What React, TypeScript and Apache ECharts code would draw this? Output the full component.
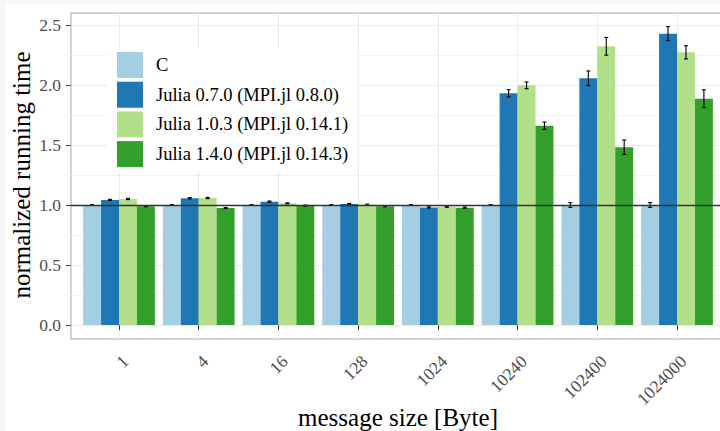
import React, { useEffect, useRef } from "react";
import * as echarts from "echarts";

const categories = ["1", "4", "16", "128", "1024", "10240", "102400", "1024000"];
const seriesNames = [
  "C",
  "Julia 0.7.0 (MPI.jl 0.8.0)",
  "Julia 1.0.3 (MPI.jl 0.14.1)",
  "Julia 1.4.0 (MPI.jl 0.14.3)",
];
const colors = ["#A6CEE3", "#1F78B4", "#B2DF8A", "#33A02C"];

const cValues = [1, 1, 1, 1, 1, 1, 1, 1];
const cErrors = [0.004, 0.004, 0.004, 0.004, 0.004, 0.003, 0.02, 0.02];
const julia07Values = [1.042, 1.056, 1.028, 1.008, 0.98, 1.931, 2.056, 2.428];
const julia07Errors = [0.005, 0.005, 0.005, 0.005, 0.005, 0.03, 0.061, 0.058];
const julia103Values = [1.05, 1.058, 1.014, 1.003, 0.985, 1.997, 2.322, 2.272];
const julia103Errors = [0.005, 0.005, 0.004, 0.004, 0.004, 0.028, 0.074, 0.055];
const julia14Values = [0.99, 0.975, 0.995, 0.99, 0.978, 1.661, 1.481, 1.886];
const julia14Errors = [0.004, 0.004, 0.004, 0.004, 0.005, 0.03, 0.06, 0.074];

const yTicksMin = 0;
const yTicksMax = 2.5;
const yTickStep = 0.5;

const FONT = "Liberation Serif";

export default function App() {
  const ref = useRef<HTMLDivElement>(null);
  useEffect(() => {
    if (!ref.current) return;
    const chart = echarts.init(ref.current, undefined, { renderer: "svg" });
    const allValues = [cValues, julia07Values, julia103Values, julia14Values];
    const allErrors = [cErrors, julia07Errors, julia103Errors, julia14Errors];

    const barSeries = allValues.map((vals, k) => ({
      name: seriesNames[k],
      type: "bar",
      xAxisIndex: 2,
      yAxisIndex: 2,
      data: vals,
      barGap: "0%",
      barCategoryGap: "10%",
      clip: false,
      itemStyle: { color: colors[k] },
      z: 2,
    }));

    const errSeries = allValues.map((vals, k) => ({
      type: "custom",
      xAxisIndex: 2,
      yAxisIndex: 2,
      z: 4,
      silent: true,
      encode: { x: 0, y: 1 },
      data: vals.map((v, i) => [i, v, allErrors[k][i]]),
      renderItem: (params: any, api: any) => {
        const idx = api.value(0);
        const v = api.value(1);
        const e = api.value(2);
        const bw = api.size([1, 0])[0];
        const barW = (bw * 0.9) / 4;
        const cx = api.coord([idx, v])[0] + (k - 1.5) * barW;
        const yTop = api.coord([idx, v + e])[1];
        const yBot = api.coord([idx, v - e])[1];
        const half = 2;
        const style = { stroke: "#000", lineWidth: 1.1 };
        return {
          type: "group",
          children: [
            { type: "line", shape: { x1: cx, y1: yTop, x2: cx, y2: yBot }, style },
            { type: "line", shape: { x1: cx - half, y1: yTop, x2: cx + half, y2: yTop }, style },
            { type: "line", shape: { x1: cx - half, y1: yBot, x2: cx + half, y2: yBot }, style },
          ],
        };
      },
    }));

    const option: any = {
      animation: false,
      backgroundColor: "#ffffff",
      textStyle: { fontFamily: FONT },
      graphic: [
        { type: "rect", shape: { x: 0, y: 0, width: 6, height: 431 }, style: { fill: "#f7f7f7" }, silent: true },
        { type: "rect", shape: { x: 0, y: 0, width: 720, height: 4 }, style: { fill: "#f7f7f7" }, silent: true },
      ],
      grid: [
        {
          left: 71, top: 13, width: 654, height: 326,
          show: true, borderColor: "#a6a6a6", borderWidth: 1, backgroundColor: "transparent",
          outerBoundsMode: "none", containLabel: false,
        },
        { left: 71, top: 25, width: 654, height: 300, outerBoundsMode: "none", containLabel: false },
        { left: 119, top: 13, width: 558, height: 326, outerBoundsMode: "none", containLabel: false },
      ],
      xAxis: [
        { gridIndex: 0, type: "value", min: 0, max: 1, show: false },
        { gridIndex: 1, type: "value", min: 0, max: 1, show: false },
        {
          gridIndex: 2,
          type: "category",
          data: categories,
          boundaryGap: false,
          axisLine: { show: false },
          axisTick: { show: true, alignWithLabel: true, length: 5, lineStyle: { color: "#444", width: 1 } },
          axisLabel: {
            rotate: 45,
            margin: 13,
            align: "right",
            verticalAlign: "top",
            color: "#4D4D4D",
            fontFamily: FONT,
            fontSize: 17.5,
          },
          splitLine: { show: true, lineStyle: { color: "#EBEBEB", width: 1 } },
          name: "message size [Byte]",
          nameLocation: "middle",
          nameGap: 66,
          nameMoveOverlap: false,
          nameTextStyle: { fontFamily: FONT, fontSize: 25, color: "#000" },
        },
      ],
      yAxis: [
        { gridIndex: 0, type: "value", min: -14 / 120, max: 2.6, show: false },
        {
          gridIndex: 1,
          type: "value",
          min: yTicksMin,
          max: yTicksMax,
          interval: yTickStep,
          axisLine: { show: false },
          axisTick: { show: true, length: 5, lineStyle: { color: "#444", width: 1 } },
          axisLabel: {
            margin: 10,
            color: "#4D4D4D",
            fontFamily: FONT,
            fontSize: 17.5,
            formatter: (v: number) => v.toFixed(1),
          },
          splitLine: { show: true, lineStyle: { color: "#EBEBEB", width: 1 } },
          minorTick: { show: false, splitNumber: 2 },
          minorSplitLine: { show: true, lineStyle: { color: "#F4F4F4", width: 1 } },
          name: "normalized running time",
          nameLocation: "middle",
          nameGap: 37,
          nameMoveOverlap: false,
          nameRotate: 90,
          nameTextStyle: { fontFamily: FONT, fontSize: 25, color: "#000" },
        },
        { gridIndex: 2, type: "value", min: -14 / 120, max: 2.6, show: false },
      ],
      legend: {
        data: seriesNames,
        orient: "vertical",
        left: 108,
        top: 48,
        padding: [4, 10, 4, 9],
        backgroundColor: "#ffffff",
        icon: "rect",
        itemWidth: 26,
        itemHeight: 26,
        itemGap: 3.7,
        textStyle: { fontFamily: FONT, fontSize: 18.5, color: "#000", padding: [0, 0, 0, 8] },
        z: 10,
      },
      series: [
        ...barSeries,
        ...errSeries,
        {
          type: "line",
          xAxisIndex: 0,
          yAxisIndex: 0,
          data: [],
          z: 6,
          silent: true,
          markLine: {
            silent: true,
            symbol: "none",
            label: { show: false },
            lineStyle: { color: "#333", width: 1.3, type: "solid" },
            data: [{ yAxis: 1 }],
          },
        },
      ],
    };
    chart.setOption(option);
    return () => chart.dispose();
  }, []);
  return (
    <div
      ref={ref}
      style={{ position: "absolute", left: 0, top: 0, width: 720, height: 431 }}
    />
  );
}
